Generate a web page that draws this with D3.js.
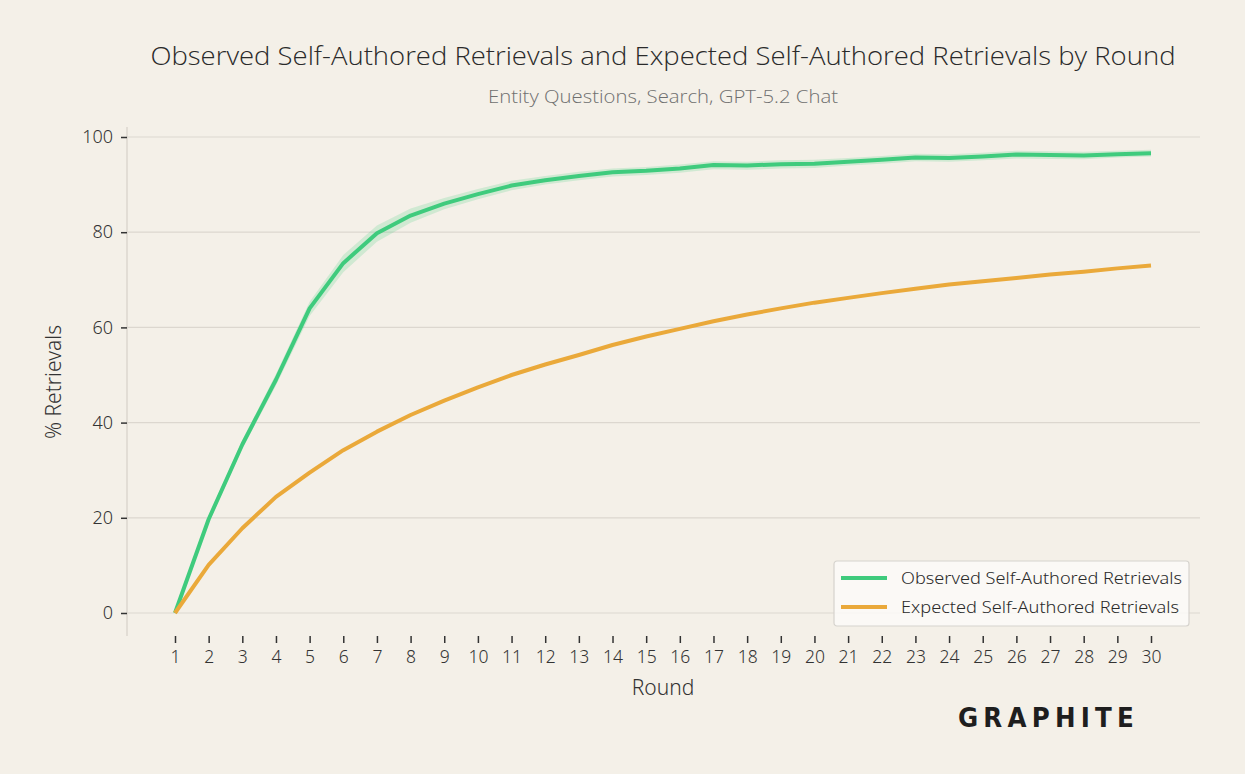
<!DOCTYPE html>
<html>
<head>
<meta charset="utf-8">
<script src="https://cdn.jsdelivr.net/npm/d3@7"></script>
<style>
  body { margin: 0; background: #f4f0e8; }
  svg { display: block; }
</style>
</head>
<body>
<div id="chart"></div>
<script>
const rounds = d3.range(1, 31);

const observed = [0, 19.7, 35.4, 49.0, 64.0, 73.5, 79.8, 83.5, 86.0, 88.0,
  89.8, 90.9, 91.8, 92.6, 92.9, 93.4, 94.1, 94.0, 94.3, 94.4,
  94.8, 95.2, 95.7, 95.6, 95.9, 96.3, 96.2, 96.1, 96.4, 96.6];
const observedLow = [0, 18.9, 34.5, 47.8, 62.4, 71.6, 78.0, 82.0, 84.8, 86.9,
  88.8, 90.0, 90.9, 91.7, 92.0, 92.5, 93.2, 93.1, 93.4, 93.5,
  94.0, 94.4, 94.9, 94.8, 95.1, 95.5, 95.4, 95.3, 95.7, 95.9];
const observedHigh = [0, 20.5, 36.3, 50.2, 65.4, 75.2, 81.4, 85.0, 87.2, 89.1,
  90.8, 91.8, 92.7, 93.4, 93.7, 94.2, 94.9, 94.8, 95.1, 95.2,
  95.6, 96.0, 96.5, 96.4, 96.7, 97.1, 97.0, 96.9, 97.1, 97.3];
const expected = [0, 10.1, 17.8, 24.4, 29.5, 34.2, 38.1, 41.6, 44.6, 47.4,
  50.0, 52.2, 54.2, 56.3, 58.1, 59.7, 61.3, 62.7, 64.0, 65.2,
  66.2, 67.2, 68.1, 69.0, 69.7, 70.4, 71.1, 71.7, 72.4, 73.0];

const yTicks = [0, 20, 40, 60, 80, 100];
const seriesNames = ["Observed Self-Authored Retrievals", "Expected Self-Authored Retrievals"];
const seriesColors = ["#3fcb7d", "#eaa93a"];

function drawLineChart(chart_id = "#chart") {
  const svgWidth = 1245;
  const svgHeight = 774;

  const svg = d3.select(chart_id)
    .append("svg")
    .attr("width", svgWidth)
    .attr("height", svgHeight)
    .style("background", "#f4f0e8");

  const font = "'Noto Sans', sans-serif";
  const titleFont = "'Open Sans', sans-serif";

  // scales
  const xScale = d3.scaleLinear().domain([1, 30]).range([175, 1151]);
  const yScale = d3.scaleLinear().domain([0, 100]).range([613, 137]);
  const plotLeft = 127, plotRight = 1200, plotTop = 127, plotBottom = 636;

  // gridlines
  svg.append("g")
    .selectAll("line")
    .data(yTicks)
    .join("line")
    .attr("x1", plotLeft).attr("x2", plotRight)
    .attr("y1", d => yScale(d)).attr("y2", d => yScale(d))
    .attr("stroke", "#dcd7cf")
    .attr("stroke-width", 1.2);

  // left spine
  svg.append("line")
    .attr("x1", plotLeft).attr("x2", plotLeft)
    .attr("y1", plotTop).attr("y2", plotBottom)
    .attr("stroke", "#dcd7cf")
    .attr("stroke-width", 1.5);

  // y axis
  const yAxis = svg.append("g")
    .attr("transform", "translate(" + plotLeft + ",0)")
    .call(d3.axisLeft(yScale).tickValues(yTicks).tickSize(6).tickPadding(8));
  yAxis.select(".domain").remove();
  yAxis.selectAll(".tick line").attr("stroke", "#333").attr("stroke-width", 1.5);
  yAxis.selectAll("text")
    .attr("font-family", font).attr("font-size", 18).attr("font-weight", 300)
    .attr("fill", "#333");

  // x axis
  const xAxis = svg.append("g")
    .attr("transform", "translate(0," + plotBottom + ")")
    .call(d3.axisBottom(xScale).tickValues(rounds).tickFormat(d3.format("d")).tickSize(7).tickPadding(8));
  xAxis.select(".domain").remove();
  xAxis.selectAll(".tick line").attr("stroke", "#333").attr("stroke-width", 1.5);
  xAxis.selectAll("text")
    .attr("font-family", font).attr("font-size", 17.5).attr("font-weight", 300)
    .attr("fill", "#333");

  // confidence band
  const area = d3.area()
    .x((d, i) => xScale(rounds[i]))
    .y0((d, i) => yScale(observedLow[i]))
    .y1((d, i) => yScale(observedHigh[i]));
  svg.append("path")
    .datum(observed)
    .attr("d", area)
    .attr("fill", seriesColors[0])
    .attr("fill-opacity", 0.2);

  const line = values => d3.line()
    .x((d, i) => xScale(rounds[i]))
    .y((d, i) => yScale(values[i]))(values);

  [observed, expected].forEach((values, k) => {
    svg.append("path")
      .attr("d", line(values))
      .attr("fill", "none")
      .attr("stroke", seriesColors[k])
      .attr("stroke-width", 4)
      .attr("stroke-linejoin", "round");
  });

  // title and subtitle
  svg.append("text")
    .attr("x", 663).attr("y", 65)
    .attr("text-anchor", "middle")
    .attr("font-family", titleFont)
    .attr("font-size", 26).attr("font-weight", 300)
    .attr("fill", "#2a2a2a")
    .attr("textLength", 1025).attr("lengthAdjust", "spacingAndGlyphs")
    .text("Observed Self-Authored Retrievals and Expected Self-Authored Retrievals by Round");

  svg.append("text")
    .attr("x", 663).attr("y", 103)
    .attr("text-anchor", "middle")
    .attr("font-family", titleFont)
    .attr("font-size", 18).attr("font-weight", 300)
    .attr("fill", "#6f6f6f")
    .attr("textLength", 350).attr("lengthAdjust", "spacingAndGlyphs")
    .text("Entity Questions, Search, GPT-5.2 Chat");

  // axis labels
  svg.append("text")
    .attr("x", 663).attr("y", 695)
    .attr("text-anchor", "middle")
    .attr("font-family", font).attr("font-size", 21).attr("font-weight", 300)
    .attr("fill", "#333")
    .text("Round");

  svg.append("text")
    .attr("transform", "translate(61,382) rotate(-90)")
    .attr("text-anchor", "middle")
    .attr("font-family", font).attr("font-size", 21).attr("font-weight", 300)
    .attr("fill", "#333")
    .text("% Retrievals");

  // legend
  const legend = svg.append("g").attr("transform", "translate(834,561)");
  legend.append("rect")
    .attr("width", 355).attr("height", 65)
    .attr("rx", 3)
    .attr("fill", "#fbfaf8").attr("fill-opacity", 0.85)
    .attr("stroke", "#d6d3ce").attr("stroke-width", 1.2);
  const legendLengths = [281, 278];
  seriesNames.forEach((name, k) => {
    const row = legend.append("g").attr("transform", "translate(0," + (17 + k * 29) + ")");
    row.append("line")
      .attr("x1", 7).attr("x2", 53)
      .attr("stroke", seriesColors[k]).attr("stroke-width", 4);
    row.append("text")
      .attr("x", 67).attr("y", 6)
      .attr("font-family", font).attr("font-size", 17).attr("font-weight", 300)
      .attr("fill", "#2a2a2a")
      .attr("textLength", legendLengths[k]).attr("lengthAdjust", "spacingAndGlyphs")
      .text(name);
  });

  // logo
  svg.append("text")
    .attr("x", 958).attr("y", 727)
    .attr("font-family", "'DejaVu Sans', sans-serif")
    .attr("font-size", 26).attr("font-weight", 700)
    .attr("letter-spacing", 5.5)
    .attr("fill", "#1e1e1e")
    .attr("textLength", 181).attr("lengthAdjust", "spacingAndGlyphs")
    .text("GRAPHITE");
}

drawLineChart();
</script>
</body>
</html>
